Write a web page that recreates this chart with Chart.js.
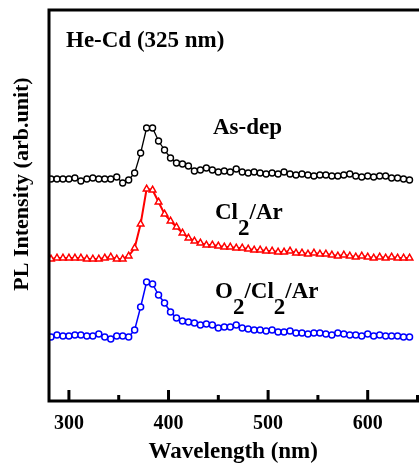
<!DOCTYPE html>
<html>
<head>
<meta charset="utf-8">
<script src="https://cdn.jsdelivr.net/npm/chart.js@4.4.1/dist/chart.umd.min.js"></script>
<style>
  html, body { margin: 0; padding: 0; background: #fff; overflow: hidden; }
  canvas { display: block; }
</style>
</head>
<body>
<canvas id="grafico-pl" width="423" height="470"></canvas>
<script>
// Wavelength (nm) of the sampled points
const wavelength = [282, 288, 294, 300, 306, 312, 318, 324, 330, 336,
    342, 348, 354, 360, 366, 372, 378, 384, 390, 396,
    402, 408, 414, 420, 426, 432, 438, 444, 450, 456,
    462, 468, 474, 480, 486, 492, 498, 504, 510, 516,
    522, 528, 534, 540, 546, 552, 558, 564, 570, 576,
    582, 588, 594, 600, 606, 612, 618, 624, 630, 636, 642];

// PL intensity (arb. unit), curves are offset vertically as in the figure
const asDep = [222, 222, 222, 222, 223, 220, 222, 223, 222, 222,
    222, 224, 218, 221, 228, 248, 273, 273, 260, 251,
    243, 238, 237, 235, 230, 231, 233, 231, 229, 230,
    229, 232, 229, 228, 229, 228, 227, 228, 227, 229,
    227, 226, 227, 226, 225, 226, 226, 225, 225, 226,
    227, 225, 224, 225, 224, 225, 225, 223, 223, 222, 221];
const cl2Ar = [142, 143, 143, 143, 143, 143, 142, 142, 142, 143,
    144, 142, 142, 145, 153, 177, 212, 211, 199, 187,
    180, 174, 168, 163, 160, 158, 156, 156, 155, 154,
    154, 153, 153, 152, 151, 151, 150, 150, 149, 149,
    150, 148, 148, 147, 148, 147, 147, 146, 145, 146,
    145, 144, 145, 144, 143, 144, 143, 144, 143, 143, 143];
const o2Cl2Ar = [64, 66, 65, 65, 66, 66, 65, 65, 67, 64,
    62, 65, 65, 64, 71, 94, 119, 117, 106, 98,
    89, 83, 80, 79, 78, 76, 77, 76, 73, 74,
    74, 76, 73, 72, 71, 71, 70, 71, 69, 69,
    70, 68, 68, 67, 68, 68, 67, 66, 68, 67,
    66, 66, 65, 67, 65, 66, 65, 65, 65, 64, 64];

const xTicks = [300, 400, 500, 600];
const xMinorTicks = [350, 450, 550, 650];

// labels: [text, isSubscript]
const labelAsDep = [['As-dep', false]];
const labelCl2Ar = [['Cl', false], ['2', true], ['/Ar', false]];
const labelO2Cl2Ar = [['O', false], ['2', true], ['/Cl', false], ['2', true], ['/Ar', false]];

const SERIF = '"Liberation Serif", "Times New Roman", serif';

function toPoints(ys) {
    return wavelength.map((w, i) => ({ x: w, y: ys[i] }));
}

function drawLabel(ctx, parts, x, y) {
    ctx.font = 'bold 23px ' + SERIF;
    ctx.textBaseline = 'alphabetic';
    ctx.textAlign = 'left';
    let cx = x;
    parts.forEach(([txt, sub]) => {
        ctx.fillText(txt, cx, sub ? y + 16 : y);
        cx += ctx.measureText(txt).width;
    });
}

const marcoYTextos = {
    id: 'marcoYTextos',
    afterDraw(chart) {
        const ctx = chart.ctx;
        const area = chart.chartArea;
        const sx = chart.scales.x;
        ctx.save();
        ctx.strokeStyle = '#000';
        ctx.fillStyle = '#000';
        ctx.lineWidth = 3;
        ctx.lineJoin = 'miter';
        ctx.beginPath();
        ctx.moveTo(chart.width, area.top);
        ctx.lineTo(area.left, area.top);
        ctx.lineTo(area.left, area.bottom);
        ctx.lineTo(chart.width, area.bottom);
        ctx.stroke();

        ctx.beginPath();
        xTicks.forEach(v => {
            const px = sx.getPixelForValue(v);
            ctx.moveTo(px, area.bottom);
            ctx.lineTo(px, area.bottom - 11);
        });
        xMinorTicks.forEach(v => {
            const px = sx.getPixelForValue(v);
            ctx.moveTo(px, area.bottom);
            ctx.lineTo(px, area.bottom - 6);
        });
        ctx.stroke();

        // y axis title
        ctx.save();
        ctx.translate(22, 184);
        ctx.rotate(-Math.PI / 2);
        ctx.font = 'bold 22px ' + SERIF;
        ctx.textAlign = 'center';
        ctx.textBaseline = 'middle';
        ctx.fillText('PL Intensity (arb.unit)', 0, 0);
        ctx.restore();

        drawLabel(ctx, [['He-Cd (325 nm)', false]], area.left + 17, area.top + 37);
        drawLabel(ctx, labelAsDep, 213, 134);
        drawLabel(ctx, labelCl2Ar, 215, 219);
        drawLabel(ctx, labelO2Cl2Ar, 215, 298);
        ctx.restore();
    }
};

document.addEventListener('DOMContentLoaded', () => {
    const ctx = document.getElementById('grafico-pl').getContext('2d');
    new Chart(ctx, {
        type: 'line',
        data: {
            datasets: [
                {
                    label: 'As-dep',
                    data: toPoints(asDep),
                    borderColor: '#000000',
                    borderWidth: 1.3,
                    pointStyle: 'circle',
                    pointRadius: 3,
                    pointBorderWidth: 1.4,
                    pointBackgroundColor: '#ffffff',
                    pointBorderColor: '#000000'
                },
                {
                    label: 'Cl2/Ar',
                    data: toPoints(cl2Ar),
                    borderColor: '#ff0000',
                    borderWidth: 2,
                    pointStyle: 'triangle',
                    pointRadius: 3.8,
                    pointBorderWidth: 1.5,
                    pointBackgroundColor: '#ffffff',
                    pointBorderColor: '#ff0000'
                },
                {
                    label: 'O2/Cl2/Ar',
                    data: toPoints(o2Cl2Ar),
                    borderColor: '#0000ff',
                    borderWidth: 1.5,
                    pointStyle: 'circle',
                    pointRadius: 3,
                    pointBorderWidth: 1.5,
                    pointBackgroundColor: '#ffffff',
                    pointBorderColor: '#0000ff'
                }
            ]
        },
        options: {
            responsive: false,
            animation: false,
            devicePixelRatio: 1,
            layout: { padding: { left: 49, top: 10, right: 0, bottom: 0 } },
            elements: { line: { tension: 0 } },
            scales: {
                x: {
                    type: 'linear',
                    min: 280,
                    max: 650,
                    border: { display: false },
                    grid: { display: false, drawTicks: false },
                    afterBuildTicks: (s) => { s.ticks = xTicks.map(v => ({ value: v })); },
                    afterFit: (s) => { s.height = 69; s.paddingLeft = 0; s.paddingRight = 0; },
                    ticks: {
                        padding: 11,
                        color: '#000',
                        font: { family: SERIF, weight: 'bold', size: 20 },
                        maxRotation: 0
                    },
                    title: {
                        display: true,
                        text: 'Wavelength (nm)',
                        color: '#000',
                        font: { family: SERIF, weight: 'bold', size: 23 },
                        padding: { top: 0, bottom: 4 }
                    }
                },
                y: {
                    display: false,
                    min: 0,
                    max: 391
                }
            },
            plugins: {
                legend: { display: false },
                tooltip: { enabled: false },
                title: { display: false }
            }
        },
        plugins: [marcoYTextos]
    });
});
</script>
</body>
</html>
